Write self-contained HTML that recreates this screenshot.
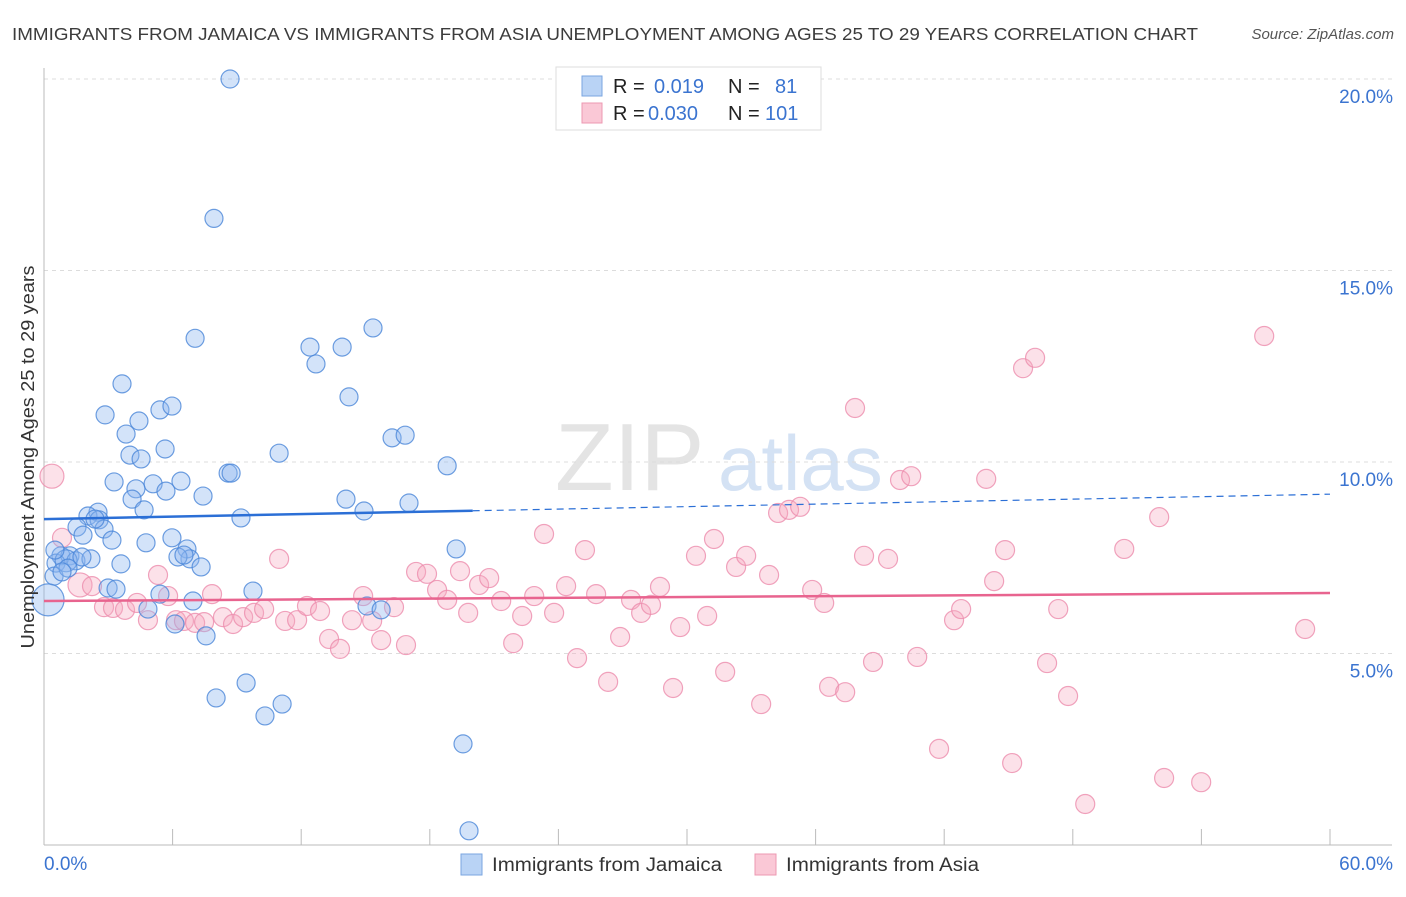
<!DOCTYPE html>
<html><head><meta charset="utf-8">
<style>
body{margin:0;background:#fff;font-family:"Liberation Sans",sans-serif;}
svg text{font-family:"Liberation Sans",sans-serif;}
</style></head>
<body>
<svg id="chart" width="1406" height="892" xmlns="http://www.w3.org/2000/svg">
<text x="12" y="40" font-size="17.5" fill="#3c3c3c" textLength="1186" lengthAdjust="spacingAndGlyphs">IMMIGRANTS FROM JAMAICA VS IMMIGRANTS FROM ASIA UNEMPLOYMENT AMONG AGES 25 TO 29 YEARS CORRELATION CHART</text>
<text x="1394" y="39" font-size="15" fill="#555" text-anchor="end" font-style="italic">Source: ZipAtlas.com</text>
<g>
<text x="555" y="490" font-size="96" fill="#e4e4e4" font-family="Liberation Serif">ZIP</text>
<text x="718" y="490" font-size="78" fill="#d4e2f4">atlas</text>
</g>
<g id="grid"></g>
<g id="axes"></g>
<g id="pink"></g>
<g id="blue"></g>
<g id="trends"></g>
<text transform="translate(34,457) rotate(-90)" font-size="18" fill="#333" text-anchor="middle" textLength="383" lengthAdjust="spacingAndGlyphs">Unemployment Among Ages 25 to 29 years</text>
<g>
<rect x="556" y="67" width="265" height="63" fill="#fff" stroke="#ddd"/>
<rect x="582" y="76" width="20" height="20" fill="#b9d3f5" stroke="#7aa6e0"/>
<rect x="582" y="103" width="20" height="20" fill="#fac8d6" stroke="#ec98b2"/>
<text x="613" y="93" font-size="20" fill="#222">R =</text>
<text x="654" y="93" font-size="20" fill="#3b74d0">0.019</text>
<text x="728" y="93" font-size="20" fill="#222">N =</text>
<text x="775" y="93" font-size="20" fill="#3b74d0">81</text>
<text x="613" y="120" font-size="20" fill="#222">R =</text>
<text x="648" y="120" font-size="20" fill="#3b74d0">0.030</text>
<text x="728" y="120" font-size="20" fill="#222">N =</text>
<text x="765" y="120" font-size="20" fill="#3b74d0">101</text>
</g>
<g>
<rect x="461" y="854" width="21" height="21" fill="#b9d3f5" stroke="#7aa6e0"/>
<text x="492" y="871" font-size="19" fill="#333" textLength="230" lengthAdjust="spacingAndGlyphs">Immigrants from Jamaica</text>
<rect x="755" y="854" width="21" height="21" fill="#fac8d6" stroke="#ec98b2"/>
<text x="786" y="871" font-size="19" fill="#333" textLength="193" lengthAdjust="spacingAndGlyphs">Immigrants from Asia</text>
</g>
</svg>
<script>
const yTicks=[5,10,15,20];
const yTickLabels=["5.0%","10.0%","15.0%","20.0%"];
const xTickValues=[0,6,12,18,24,30,36,42,48,54,60];
const xEndLabels=["0.0%","60.0%"];
const blueX=[8.68,7.93,7.05,15.35,12.41,13.91,12.69,3.64,14.23,2.85,5.41,5.97,4.43,3.83,16.24,16.85,5.65,4.01,4.53,10.97,18.81,8.59,8.73,3.27,5.09,6.39,5.69,4.29,4.11,7.42,14.09,17.03,4.67,14.93,2.52,2.05,2.57,9.19,1.54,1.82,2.80,3.17,4.76,5.97,19.23,6.67,0.79,1.21,1.49,2.19,6.81,6.25,7.33,0.56,3.59,0.47,2.99,3.36,9.75,5.41,6.95,0.19,4.85,15.07,15.73,6.11,7.56,9.43,8.03,11.11,10.31,19.55,19.83,1.03,2.38,1.77,1.12,0.84,6.53,0.51];
const blueY=[20.0,16.36,13.23,13.50,13.0,13.0,12.56,12.04,11.70,11.23,11.36,11.46,11.07,10.73,10.63,10.70,10.34,10.18,10.08,10.23,9.90,9.71,9.71,9.48,9.43,9.50,9.24,9.30,9.03,9.11,9.03,8.93,8.75,8.72,8.69,8.59,8.49,8.54,8.30,8.09,8.25,7.96,7.89,8.02,7.73,7.73,7.55,7.55,7.42,7.47,7.47,7.52,7.26,7.36,7.34,7.02,6.71,6.68,6.63,6.55,6.37,6.40,6.16,6.24,6.14,5.77,5.46,4.23,3.84,3.68,3.37,2.64,0.37,7.42,8.51,7.52,7.23,7.13,7.57,7.70];
const blueR=[9,9,9,9,9,9,9,9,9,9,9,9,9,9,9,9,9,9,9,9,9,9,9,9,9,9,9,9,9,9,9,9,9,9,9,9,9,9,9,9,9,9,9,9,9,9,9,9,9,9,9,9,9,9,9,9,9,9,9,9,9,16,9,9,9,9,9,9,9,9,9,9,9,11,9,9,9,9,9,9];
const pinkX=[0.37,0.84,1.68,2.24,2.80,3.22,3.78,4.34,4.85,5.32,5.79,6.16,6.53,7.05,7.47,7.84,8.35,8.82,9.29,9.80,10.27,10.97,11.25,11.81,12.27,12.88,13.30,13.81,14.37,14.89,15.31,15.73,16.33,16.89,17.36,17.87,18.34,18.81,19.41,19.79,20.30,20.77,21.33,21.89,22.31,22.87,23.33,23.80,24.36,24.87,25.24,25.76,26.32,26.88,27.39,27.86,28.32,28.74,29.68,29.35,30.42,30.94,31.26,31.78,32.29,32.76,33.46,33.83,34.25,34.76,35.28,35.84,36.40,36.63,37.38,37.84,38.26,38.68,39.38,39.94,40.46,40.74,41.76,42.46,42.79,43.96,44.33,44.84,45.17,45.68,46.24,46.80,47.32,47.78,48.58,50.40,52.03,52.26,53.99,56.93,58.84];
const pinkY=[9.63,8.02,6.79,6.76,6.21,6.19,6.14,6.32,5.87,7.05,6.50,5.87,5.85,5.80,5.82,6.55,5.95,5.77,5.95,6.06,6.16,7.47,5.85,5.87,6.24,6.11,5.38,5.12,5.87,6.50,5.85,5.35,6.21,5.22,7.13,7.08,6.66,6.40,7.15,6.06,6.79,6.97,6.37,5.27,5.98,6.50,8.12,6.06,6.76,4.88,7.70,6.55,4.26,5.43,6.40,6.06,6.27,6.74,5.69,4.10,7.55,5.98,7.99,4.52,7.26,7.55,3.68,7.05,8.67,8.75,8.83,6.66,6.32,4.13,3.99,11.41,7.55,4.78,7.47,9.53,9.63,4.91,2.51,5.87,6.16,9.56,6.89,7.70,2.14,12.45,12.72,4.75,6.16,3.89,1.07,7.73,8.56,1.75,1.64,13.29,5.64];
const bigPink=[0,2];
const blueTrend=[8.51,9.16];
const blueSolidEnd=20;
const pinkTrend=[6.37,6.58];

const X0=44,X1=1330,Y0=845,PXPER=191.5/5;
function sx(v){return X0+(v/60)*(X1-X0);}
function sy(v){return Y0-v*PXPER;}
const NS="http://www.w3.org/2000/svg";
function mk(tag,attrs,parent){const e=document.createElementNS(NS,tag);for(const k in attrs)e.setAttribute(k,attrs[k]);parent.appendChild(e);return e;}
const grid=document.getElementById('grid'),axes=document.getElementById('axes');
yTicks.forEach((t,i)=>{
 const l=mk('line',{x1:X0,x2:1392,y1:sy(t),y2:sy(t),stroke:'#dcdcdc','stroke-dasharray':'4,4'},grid);
 
 
 const tx=mk('text',{x:1393,y:sy(t)+24,'font-size':19,fill:'#3b74d0','text-anchor':'end'},axes);
 tx.textContent=yTickLabels[i];
 
 
});
const topL=mk('line',{x1:X0,x2:1392,y1:79,y2:79,stroke:'#dcdcdc','stroke-dasharray':'4,4'},grid);


const ya=mk('line',{x1:X0,x2:X0,y1:68,y2:Y0,stroke:'#bbb'},axes);


const xa=mk('line',{x1:X0,x2:1392,y1:Y0,y2:Y0,stroke:'#bbb'},axes);


xTickValues.forEach(v=>{
 const t=mk('line',{x1:sx(v),x2:sx(v),y1:Y0,y2:Y0-16,stroke:'#bbb'},axes);
 
 
});
const xl0=mk('text',{x:44,y:870,'font-size':19,fill:'#3b74d0'},axes);xl0.textContent=xEndLabels[0];


const xl1=mk('text',{x:1393,y:870,'font-size':19,fill:'#3b74d0','text-anchor':'end'},axes);xl1.textContent=xEndLabels[1];


const pg=document.getElementById('pink');
pinkX.forEach((v,i)=>{
 const r=bigPink.includes(i)?12:9.5;
 const c=mk('circle',{cx:sx(v),cy:sy(pinkY[i]),r:r,fill:'rgba(246,168,193,0.35)',stroke:'rgba(236,140,172,0.8)','stroke-width':1.2},pg);
 
 
});
const bg=document.getElementById('blue');
blueX.forEach((v,i)=>{
 const c=mk('circle',{cx:sx(v),cy:sy(blueY[i]),r:blueR[i],fill:'rgba(140,182,238,0.38)',stroke:'rgba(74,134,216,0.8)','stroke-width':1.2},bg);
 
 
});
const tg=document.getElementById('trends');
const bySolid=blueTrend[0]+(blueTrend[1]-blueTrend[0])*blueSolidEnd/60;
const b1=mk('line',{x1:sx(0),y1:sy(blueTrend[0]),x2:sx(blueSolidEnd),y2:sy(bySolid),stroke:'#2b6fd6','stroke-width':2.5},tg);


const b2=mk('line',{x1:sx(blueSolidEnd),y1:sy(bySolid),x2:sx(60),y2:sy(blueTrend[1]),stroke:'#2b6fd6','stroke-width':1.2,'stroke-dasharray':'7,5'},tg);


const p1=mk('line',{x1:sx(0),y1:sy(pinkTrend[0]),x2:sx(60),y2:sy(pinkTrend[1]),stroke:'#e8648f','stroke-width':2.5},tg);


</script>
</body></html>
